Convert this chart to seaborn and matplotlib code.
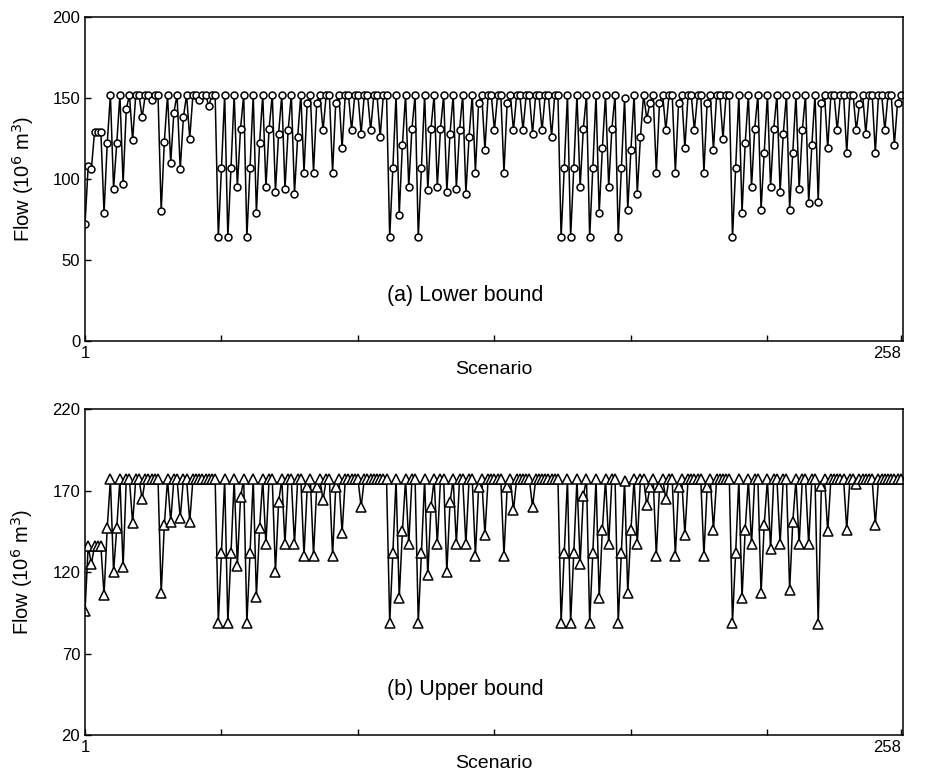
import numpy as np
import pandas as pd
import seaborn as sns
from matplotlib import pyplot as plt

# lower bound flow per scenario (10^6 m3)
lower = [72, 108, 106, 129, 129, 129, 79, 122, 152, 94, 122, 152, 97, 143, 152, 124, 152, 152, 138, 152,
         152, 149, 152, 152, 80, 123, 152, 110, 141, 152, 106, 138, 152, 125, 152, 152, 149, 152, 152, 145,
         152, 152, 64, 107, 152,
         64, 107, 152, 95, 131, 152, 64, 107, 152, 79, 122, 152, 95, 131, 152, 92, 128, 152, 94, 130,
         152, 91, 126, 152, 104, 147, 152, 104, 147, 152, 130, 152, 152, 104, 147, 152, 119, 152, 152,
         130, 152, 152, 128, 152, 152, 130, 152, 152, 126, 152, 152, 64, 107, 152, 78, 121, 152, 95, 131,
         152, 64, 107, 152, 93, 131, 152, 95, 131, 152, 92, 128, 152, 94, 130, 152, 91, 126, 152, 104,
         147, 152, 118, 152, 152, 130,
         152, 152, 104, 147, 152, 130, 152, 152, 130, 152, 152, 128, 152, 152, 130, 152, 152, 126, 152, 152,
         64, 107, 152, 64, 107, 152, 95, 131, 152, 64, 107, 152, 79, 119, 152, 95, 131, 152, 64,
         107, 150, 81, 118, 152, 91, 126, 152, 137, 147, 152, 104, 147, 152, 130, 152, 152, 104, 147, 152,
         119, 152, 152, 130, 152, 152, 104, 147, 152, 118, 152, 152, 125, 152, 152, 64, 107, 152, 79, 122,
         152, 95, 131, 152,
         81, 116, 152, 95, 131, 152, 92, 128, 152, 81, 116, 152, 94, 130, 152, 85, 121, 152, 86, 147,
         152, 119, 152, 152, 130, 152, 152, 116, 152, 152, 130, 146, 152, 128, 152, 152, 116, 152, 152, 130,
         152, 152, 121, 147, 152]

# upper bound flow per scenario (10^6 m3)
upper = [96, 136, 125, 136, 136, 136, 106, 147, 177, 120, 147, 177, 123, 177, 177, 150, 177, 177, 165, 177,
         177, 177, 177, 177, 107, 149, 177, 151, 177, 177, 153, 177, 177, 151, 177, 177, 177, 177, 177, 177,
         177, 177, 89, 132, 177,
         89, 132, 177, 124, 166, 177, 89, 132, 177, 105, 147, 177, 137, 177, 177, 120, 163, 177, 137, 177,
         177, 137, 177, 177, 130, 172, 177, 130, 172, 177, 164, 177, 177, 130, 172, 177, 144, 177, 177,
         177, 177, 177, 160, 177, 177, 177, 177, 177, 177, 177, 177, 89, 132, 177, 104, 145, 177, 137, 177,
         177, 89, 132, 177, 118, 160, 177, 137, 177, 177, 120, 163, 177, 137, 177, 177, 137, 177, 177, 130,
         172, 177, 143, 177, 177, 177,
         177, 177, 130, 172, 177, 158, 177, 177, 177, 177, 177, 160, 177, 177, 177, 177, 177, 177, 177, 177,
         89, 132, 177, 89, 132, 177, 125, 167, 177, 89, 132, 177, 104, 146, 177, 137, 177, 177, 89,
         132, 176, 107, 146, 177, 137, 177, 177, 161, 172, 177, 130, 172, 177, 165, 177, 177, 130, 172, 177,
         143, 177, 177, 177, 177, 177, 130, 172, 177, 146, 177, 177, 177, 177, 177, 89, 132, 177, 104, 146,
         177, 137, 177, 177,
         107, 149, 177, 134, 177, 177, 137, 177, 177, 109, 151, 177, 137, 177, 177, 137, 177, 177, 88, 173,
         177, 145, 177, 177, 177, 177, 177, 146, 177, 177, 174, 177, 177, 177, 177, 177, 149, 177, 177, 177,
         177, 177, 177, 177, 177]

scen = np.arange(1, len(lower) + 1)
df = pd.DataFrame({'scenario': scen, 'lower': lower, 'upper': upper[:len(scen)]})

sns.set_style('ticks', {'axes.edgecolor': 'black', 'text.color': 'black',
                        'axes.labelcolor': 'black', 'xtick.color': 'black', 'ytick.color': 'black'})
plt.rcParams['font.family'] = ['Liberation Sans', 'DejaVu Sans']
plt.rcParams['xtick.direction'] = 'in'
plt.rcParams['ytick.direction'] = 'in'

fig = plt.figure(figsize=(9.27, 7.7), dpi=100)
ax1 = fig.add_axes([0.0917, 0.557, 0.882, 0.421])
ax2 = fig.add_axes([0.0917, 0.0455, 0.882, 0.423])

sns.lineplot(data=df, x='scenario', y='lower', ax=ax1, color='black', lw=1.1,
             marker='o', markersize=5, markerfacecolor='white', markeredgecolor='black', markeredgewidth=1.1)
sns.lineplot(data=df, x='scenario', y='upper', ax=ax2, color='black', lw=1.1,
             marker='^', markersize=6.5, markerfacecolor='white', markeredgecolor='black', markeredgewidth=1.1)

xt = [1, 44, 87, 130, 173, 216, 258]
xl = ['1', '', '', '', '', '', '258']
for ax, yt, txt in [(ax1, [0, 50, 100, 150, 200], '(a) Lower bound'),
                    (ax2, [20, 70, 120, 170, 220], '(b) Upper bound')]:
    ax.set_xlim(1, 258.6)
    ax.set_ylim(yt[0], yt[-1])
    ax.set_xticks(xt)
    ax.set_xticklabels(xl)
    ax.set_yticks(yt)
    ax.tick_params(labelsize=12, length=4, width=1, colors='black')
    ax.xaxis.get_majorticklabels()[-1].set_horizontalalignment('right')
    ax.set_xlabel('Scenario', fontsize=14, labelpad=0, color='black')
    ax.set_ylabel('Flow (10$^6$ m$^3$)', fontsize=14.5, labelpad=12, color='black')
    ax.text(0.465, 0.14, txt, transform=ax.transAxes, ha='center', va='center',
            fontsize=15.5, color='black')
    for s in ax.spines.values():
        s.set_linewidth(1.1)
        s.set_color('black')
        s.set_visible(True)

fig.savefig('out.png', dpi=100)
